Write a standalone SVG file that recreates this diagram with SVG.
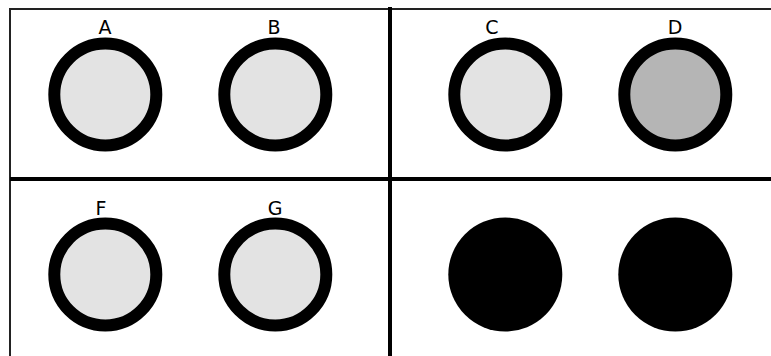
<svg xmlns="http://www.w3.org/2000/svg" width="771" height="356" viewBox="0 0 771 356">
<style>
.ring{stroke:#000;stroke-width:12}
.light{fill:#e3e3e3}
.dark{fill:#b5b5b5}
.solid{fill:#000}
.lbl{font-family:"DejaVu Sans","Liberation Sans",sans-serif;font-size:19px;fill:#000;text-anchor:middle}
.thin{stroke:#222;stroke-width:2;fill:none}
.thick{stroke:#000;stroke-width:4;fill:none}
</style>
<rect width="771" height="356" fill="#fff"/>
<g id="frame">
<line class="thin" x1="9" y1="9" x2="771" y2="9"/>
<line class="thin" x1="10" y1="8" x2="10" y2="356"/>
<line class="thick" x1="390" y1="7" x2="390" y2="356"/>
<line class="thick" x1="10" y1="179" x2="771" y2="179"/>
</g>
<g id="A"><circle class="ring light" cx="105.3" cy="94.5" r="51"/><text class="lbl" x="105" y="34">A</text></g>
<g id="B"><circle class="ring light" cx="275.3" cy="94.5" r="51"/><text class="lbl" x="274" y="34">B</text></g>
<g id="C"><circle class="ring light" cx="505.3" cy="94.5" r="51"/><text class="lbl" x="492" y="34">C</text></g>
<g id="D"><circle class="ring dark" cx="675.3" cy="94.5" r="51"/><text class="lbl" x="675" y="34">D</text></g>
<g id="F"><circle class="ring light" cx="105.3" cy="274.5" r="51"/><text class="lbl" x="101" y="215">F</text></g>
<g id="G"><circle class="ring light" cx="275.3" cy="274.5" r="51"/><text class="lbl" x="275" y="215">G</text></g>
<g id="H"><circle class="solid" cx="505.3" cy="274.5" r="57"/></g>
<g id="I"><circle class="solid" cx="675.3" cy="274.5" r="57"/></g>
<g id="connectors"/>
</svg>
